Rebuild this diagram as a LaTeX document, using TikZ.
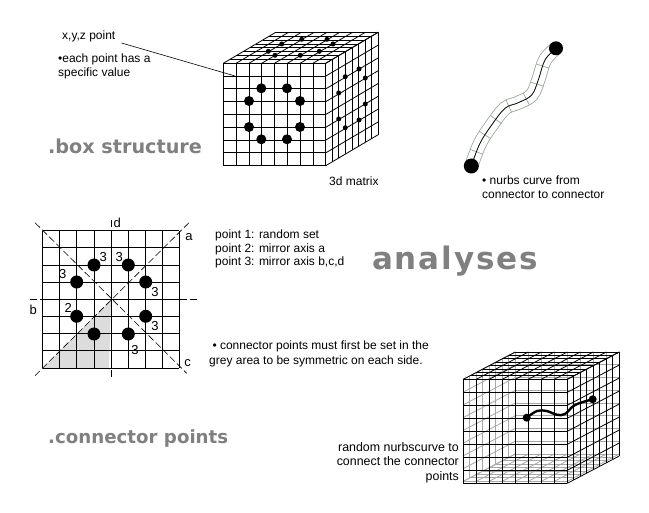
\documentclass[tikz,border=0pt]{standalone}
\usepackage{fontspec}
\setmainfont{Liberation Sans}
\newfontfamily\headfont{DejaVu Sans}
\usetikzlibrary{positioning,decorations.markings}
\definecolor{headgray}{HTML}{808080}
\definecolor{areagray}{HTML}{DCDCDC}
\definecolor{tubegray}{HTML}{9AA59A}
\definecolor{hiddengray}{HTML}{A8A8A8}
\tikzset{
	note/.style={anchor=west,inner sep=0pt,font=\fontsize{12}{13.6}\selectfont,align=left},
	heading/.style={anchor=base west,inner sep=0pt,text=headgray,font=\headfont\fontsize{18.2}{20}\selectfont\bfseries},
	numlabel/.style={inner sep=0pt,font=\fontsize{13}{14}\selectfont},
	axis/.style={dash pattern=on 7pt off 3pt,line width=0.6pt},
	gridline/.style={line width=0.8pt},
	hidden/.style={line width=0.8pt,draw=hiddengray},
	bigdot/.style={circle,fill=black,inner sep=0pt,minimum size=#1}
}
% front face at (x,y), cell size, depth offset
\newcommand{\cubegrid}[5]{
	\foreach \i in {0,...,8} {
		\draw[gridline] (#1+\i*#3,#2) -- (#1+\i*#3,#2+8*#3);
		\draw[gridline] (#1,#2+\i*#3) -- (#1+8*#3,#2+\i*#3);
		\draw[gridline] (#1+\i*#3,#2) -- (#1+\i*#3+#4,#2-#5);
		\draw[gridline] (#1+8*#3,#2+\i*#3) -- (#1+8*#3+#4,#2+\i*#3-#5);
		\draw[gridline] (#1+\i*#4/8,#2-\i*#5/8) -- (#1+8*#3+\i*#4/8,#2-\i*#5/8);
		\draw[gridline] (#1+8*#3+\i*#4/8,#2-\i*#5/8) -- (#1+8*#3+\i*#4/8,#2+8*#3-\i*#5/8);
	}
}
\begin{document}
\begin{tikzpicture}[x=1pt,y=-1pt]
	\useasboundingbox[fill=white] (0,0) rectangle (649,513);

	\node[note] (xyz) at (62,36) {x,y,z point};
	\node[note] (spec) at (58,66.5) {•each point has a\\specific value};
	\node[heading,font=\headfont\fontsize{19.2}{20}\selectfont\bfseries] (boxhead) at (48,154) {.box structure};
	\coordinate (xyzend) at (235,76);
	\draw[line width=0.6pt] (xyz.east) ++(6,7) -- (xyzend);
	\cubegrid{223.3}{63.3}{12.8}{52.5}{31}
	\node[note] (matrix) at (329,181) {3d matrix};
	\foreach \x/\y in {261.3/88.3,287/88.3,249/101,300/101,249/127,300/127,261.3/139.3,287/139.3}
		\node[bigdot=10pt] at (\x,\y) {};
	\foreach \x/\y in {345.3/76.7,359/69,365.3/78,338.7/93,338.7/119,345.3/127.7,359/120,365.3/104}
		\node[bigdot=5pt] at (\x,\y) {};
	\foreach \x/\y in {301.7/39.3,327/39.3,281.7/44,333/44,268.3/51.3,319.3/51.3,275/55.3,300.3/55.3}
		\node[bigdot=5pt] at (\x,\y) {};

	\draw[draw=tubegray,line width=14pt] plot[smooth,tension=0.6] coordinates {(471.3,166) (480,143.3) (491.7,125) (505,108.3) (518.3,102.7) (531.7,95) (538.3,80) (545,60) (556,48.3)};
	\draw[white,line width=12.4pt] plot[smooth,tension=0.6] coordinates {(471.3,166) (480,143.3) (491.7,125) (505,108.3) (518.3,102.7) (531.7,95) (538.3,80) (545,60) (556,48.3)};
	\draw[draw=tubegray,line width=0.7pt,postaction={decorate},decoration={markings,
		mark=between positions 0.1 and 0.95 step 0.125 with {\draw[tubegray,line width=0.7pt] (0,-7pt) -- (0,7pt);}}]
		plot[smooth,tension=0.6] coordinates {(471.3,166) (480,143.3) (491.7,125) (505,108.3) (518.3,102.7) (531.7,95) (538.3,80) (545,60) (556,48.3)};
	\draw[line width=0.7pt] plot[smooth,tension=0.6] coordinates {(471.3,166) (480,143.3) (491.7,125) (505,108.3) (518.3,102.7) (531.7,95) (538.3,80) (545,60) (556,48.3)};
	\node[bigdot=15pt] (start) at (471.3,166) {};
	\node[bigdot=14pt] (stop) at (556,48.3) {};
	\node[note] (nurbs) at (482,187) {• nurbs curve from\\connector to connector};

	\fill[areagray] (43,368) -- (111,300) -- (109,368) -- cycle;
	\foreach \i in {0,...,8} {
		\draw[gridline] (42.7+\i*17.08,230.7) -- (42.7+\i*17.08,368);
		\draw[gridline] (42.7,230.7+\i*17.16) -- (179.3,230.7+\i*17.16);
	}
	\draw[axis] (35,222.7) -- (186.7,373.3);
	\draw[axis] (35,375.7) -- (191,220.7);
	\draw[axis] (30,299.3) -- (197,299.3);
	\draw[axis] (111.3,220) -- (111.3,379);
	\foreach \x/\y in {94/265,128.3/265,76.7/282,145.7/282,76.7/316.3,145.7/316.3,94/334,128.3/334}
		\node[bigdot=13pt] at (\x,\y) {};
	\node[numlabel] (n1) at (103.3,257) {3};
	\node[numlabel] (n2) at (119.3,257) {3};
	\node[numlabel] (n3) at (62.7,274) {3};
	\node[numlabel] (n4) at (155,291.7) {3};
	\node[numlabel] (n5) at (155,326) {3};
	\node[numlabel] (n6) at (135,350) {3};
	\node[numlabel] (n7) at (68.3,308.3) {2};
	\node[numlabel] (axisa) at (189,236.7) {a};
	\node[numlabel] (axisb) at (33.3,310) {b};
	\node[numlabel] (axisc) at (187.7,363.3) {c};
	\node[numlabel] (axisd) at (117.3,223.3) {d};
	\node[note] (pts) at (215,249) {point 1: random set\\point 2: mirror axis a\\point 3: mirror axis b,c,d};
	\node[note,font=\fontsize{12}{14.4}\selectfont] (grey) at (209,354) {\ • connector points must first be set in the\\grey area to be symmetric on each side.};
	\node[heading,font=\headfont\fontsize{31}{34}\selectfont\bfseries\addfontfeature{LetterSpace=6}] (title) at (372,270) {analyses};
	\node[heading] (conhead) at (48,444) {.connector points};

	\foreach \i in {0,...,8} {
		\draw[hidden] (515.3+\i*13,352) -- (515.3+\i*13,454);
		\draw[hidden] (515.3,352+\i*12.75) -- (619.3,352+\i*12.75);
		\draw[hidden] (463.3+\i*6.5,379.3-\i*3.41) -- (463.3+\i*6.5,481.3-\i*3.41);
		\draw[hidden] (463.3,379.3+\i*12.75) -- (515.3,352+\i*12.75);
		\draw[hidden] (463.3+\i*13,481.3) -- (515.3+\i*13,454);
		\draw[hidden] (463.3+\i*6.5,481.3-\i*3.41) -- (567.3+\i*6.5,481.3-\i*3.41);
	}
	\cubegrid{463.3}{379.3}{13}{52}{27.3}
	\draw[line width=2.4pt] plot[smooth,tension=0.6] coordinates {(526.7,417.7) (537,411) (546.7,411) (556.7,414.7) (565,414) (575,405) (592.7,399.3)};
	\node[bigdot=8pt] (from) at (526.7,417.7) {};
	\node[bigdot=8pt] (to) at (592.7,399.3) {};
	\node[note,align=right,anchor=east,font=\fontsize{12.4}{14.6}\selectfont] (rand) at (459,462.5) {random nurbscurve to\\connect the connector\\points};
\end{tikzpicture}
\end{document}
